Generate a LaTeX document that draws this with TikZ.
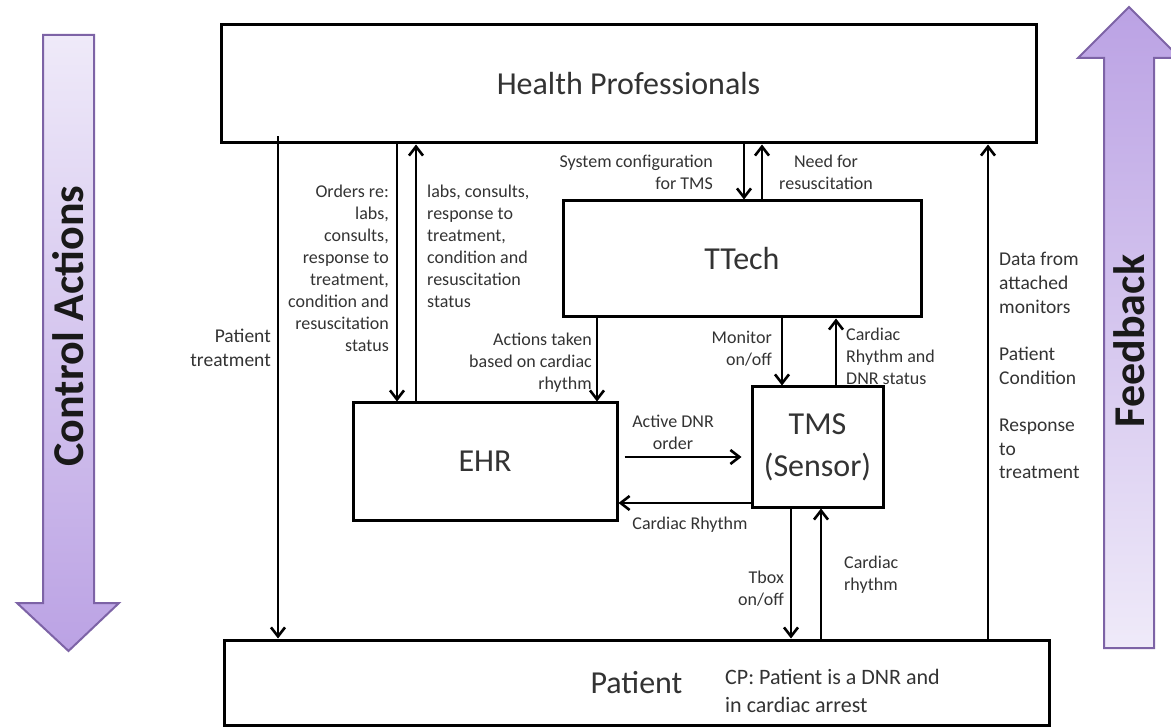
\documentclass[tikz,border=0pt]{standalone}
\usepackage{fontspec}
\setmainfont{Carlito}
\usetikzlibrary{arrows.meta,calc}
\definecolor{lbl}{HTML}{333333}
\definecolor{bigedge}{HTML}{7D63A6}
\definecolor{biglight}{HTML}{EFEAF9}
\definecolor{bigdark}{HTML}{BBA2E4}
\begin{document}
\begin{tikzpicture}[x=1pt,y=-1pt,
  box/.style={draw=black, line width=3pt, fill=white, inner sep=0pt,
    font=\fontsize{32}{42}\selectfont, text=lbl, align=center},
  arr/.style={line width=2.6pt, -{Straight Barb[length=9pt,width=14pt]}},
  lab/.style={inner sep=0pt, text=lbl, font=\fontsize{18}{22}\selectfont},
  labbig/.style={inner sep=0pt, text=lbl, font=\fontsize{19.5}{23.8}\selectfont},
  labcp/.style={inner sep=0pt, text=lbl, font=\fontsize{22}{28}\selectfont},
  bigarrow/.style={draw=bigedge, line width=2pt, line join=miter},
  bigtext/.style={rotate=90, inner sep=0pt, text=black!90,
    font=\fontsize{44}{50}\selectfont\bfseries}
]
\useasboundingbox (0,0) rectangle (1171,727);

% side arrows
\shade[bigarrow, top color=biglight, bottom color=bigdark]
  (43,35) -- (94,35) -- (94,603) -- (119,603) -- (68.5,651) -- (17,603) -- (43,603) -- cycle;
\shade[bigarrow, top color=bigdark, bottom color=biglight]
  (1104,648) -- (1154,648) -- (1154,58) -- (1180,58) -- (1129,7) -- (1078,58) -- (1104,58) -- cycle;
\node[bigtext] (ca) at (68,326) {Control Actions};
\node[bigtext] (fb) at (1129,341) {Feedback};

% boxes
\node[box, minimum width=815pt, minimum height=118pt] (hp) at (628.5,84) {Health Professionals};
\node[box, minimum width=358pt, minimum height=116pt] (tt) at (742,259) {TTech};
\node[box, minimum width=264pt, minimum height=117pt] (ehr) at (485,461.5) {EHR};
\node[box, minimum width=131pt, minimum height=120pt] (tms) at (817.5,447) {TMS\\(Sensor)};
\node[box, minimum width=825pt, minimum height=85pt, text depth=-4pt] (pat) at (636.5,682.5) {Patient};

% connectors
\draw[arr] ($(hp.south -| 278,0)+(0,-8)$) -- (pat.north -| 278,0);
\draw[arr] (hp.south -| 397,0) -- (ehr.north -| 397,0);
\draw[arr] (ehr.north -| 416,0) -- (hp.south -| 416,0);
\draw[arr] (hp.south -| 744,0) -- (tt.north -| 744,0);
\draw[arr] (tt.north -| 762,0) -- (hp.south -| 762,0);
\draw[arr] (tt.south -| 597,0) -- (ehr.north -| 597,0);
\draw[arr] (tt.south -| 782,0) -- (tms.north -| 782,0);
\draw[arr] (tms.north -| 836,0) -- (tt.south -| 836,0);
\draw[arr, shorten <=6pt, shorten >=9pt] (ehr.east |- 0,457) -- (tms.west |- 0,457);
\draw[arr] (tms.west |- 0,503) -- (ehr.east |- 0,503);
\draw[arr] (tms.south -| 791,0) -- (pat.north -| 791,0);
\draw[arr] (pat.north -| 821,0) -- (tms.south -| 821,0);
\draw[arr] (pat.north -| 988,0) -- (hp.south -| 988,0);

% connector labels
\node[labbig, anchor=east, align=right] (lpt) at (271,348) {Patient\\treatment};
\node[lab, anchor=east, align=right] (lord) at (389,268) {Orders re:\\labs,\\consults,\\response to\\treatment,\\condition and\\resuscitation\\status};
\node[lab, anchor=west, align=left] (llabs) at (427,246) {labs, consults,\\response to\\treatment,\\condition and\\resuscitation\\status};
\node[lab, anchor=east, align=right] (lsys) at (713,172) {System configuration\\for TMS};
\node[lab, align=center] (lneed) at (826,172) {Need for\\resuscitation};
\node[lab, anchor=east, align=right] (lact) at (592,363) {Actions taken\\based on cardiac\\rhythm};
\node[lab, anchor=east, align=right] (lmon) at (772,349) {Monitor\\on/off};
\node[lab, anchor=west, align=left] (lcrd) at (846,356) {Cardiac\\Rhythm and\\DNR status};
\node[lab, align=center] (ldnr) at (673,432) {Active DNR\\order};
\node[lab] (lcrr) at (690,525) {Cardiac Rhythm};
\node[lab, anchor=east, align=right] (ltbox) at (784,589) {Tbox\\on/off};
\node[lab, anchor=west, align=left] (lcrp) at (844,575) {Cardiac\\rhythm};
\node[labbig, anchor=west, align=left] (lmonit) at (999,283) {Data from\\attached\\monitors};
\node[labbig, anchor=west, align=left] (lcond) at (999,366) {Patient\\Condition};
\node[labbig, anchor=west, align=left] (lresp) at (999,449) {Response\\to\\treatment};
\node[labcp, anchor=west, align=left] (lcp) at (725,691) {CP: Patient is a DNR and\\in cardiac arrest};
\end{tikzpicture}
\end{document}
